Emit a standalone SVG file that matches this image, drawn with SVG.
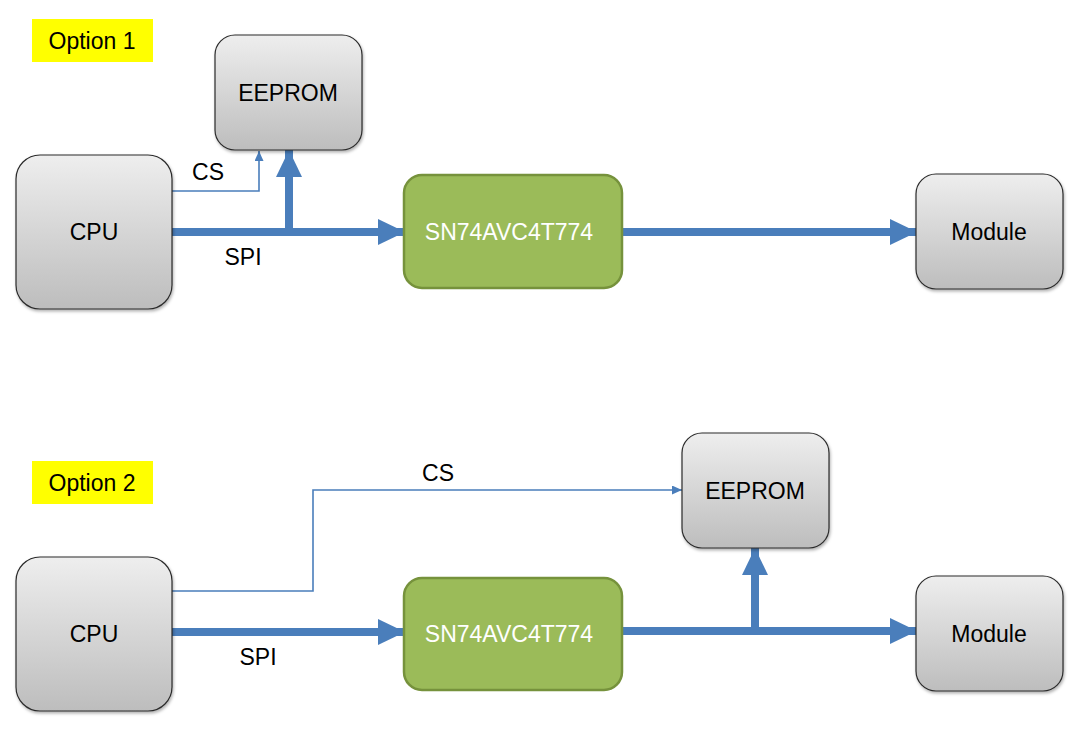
<svg xmlns="http://www.w3.org/2000/svg" width="1072" height="737" viewBox="0 0 1072 737">
<defs>
<linearGradient id="g" x1="0" y1="0" x2="0" y2="1">
<stop offset="0" stop-color="#EEEEEE"/>
<stop offset="1" stop-color="#BDBDBD"/>
</linearGradient>
<filter id="sh" x="-10%" y="-10%" width="130%" height="130%">
<feDropShadow dx="1" dy="2" stdDeviation="1.5" flood-color="#000" flood-opacity="0.3"/>
</filter>
<marker id="ah" markerUnits="userSpaceOnUse" markerWidth="28" markerHeight="28" refX="27" refY="13" orient="auto">
<path d="M0,0 L27,13 L0,26 Z" fill="#4A7EBB"/>
</marker>
<marker id="ahs" markerUnits="userSpaceOnUse" markerWidth="12" markerHeight="12" refX="10" refY="4.5" orient="auto">
<path d="M0,0 L10,4.5 L0,9 Z" fill="#4A7EBB"/>
</marker>
</defs>
<style>
.box{fill:url(#g);stroke:#2b2b2b;stroke-width:1.2;filter:url(#sh)}
.chip{fill:#9BBB59;stroke:#76923C;stroke-width:2.5}
.t{font-family:"Liberation Sans",Arial,sans-serif;font-size:23px;fill:#000;text-anchor:middle;dominant-baseline:central}
.tw{font-family:"Liberation Sans",Arial,sans-serif;font-size:23px;fill:#fff;text-anchor:middle;dominant-baseline:central}
.thick{fill:none;stroke:#4A7EBB;stroke-width:8}
.thin{fill:none;stroke:#4A7EBB;stroke-width:1.6}
.hl{fill:#FFFF00}
</style>

<g id="option1-label"><rect class="hl" x="32" y="19" width="121" height="43"/><text class="t" x="92" y="41">Option 1</text></g>
<g id="option2-label"><rect class="hl" x="32" y="461" width="121" height="43"/><text class="t" x="92" y="483">Option 2</text></g>

<g id="connectors">
<path class="thin" d="M172,191 H259 V151" marker-end="url(#ahs)"/>
<path class="thick" d="M172,232 H405" marker-end="url(#ah)"/>
<path class="thick" d="M289,232 V150" marker-end="url(#ah)"/>
<path class="thick" d="M622,232 H917" marker-end="url(#ah)"/>
<path class="thin" d="M172,591 H313 V490 H682" marker-end="url(#ahs)"/>
<path class="thick" d="M172,632 H405" marker-end="url(#ah)"/>
<path class="thick" d="M622,631 H917" marker-end="url(#ah)"/>
<path class="thick" d="M755,631 V548" marker-end="url(#ah)"/>
<text class="t" x="208" y="172">CS</text>
<text class="t" x="243" y="257">SPI</text>
<text class="t" x="438" y="473">CS</text>
<text class="t" x="258" y="657">SPI</text>
</g>

<g id="eeprom1"><rect class="box" x="215" y="35" width="147" height="115" rx="20"/><text class="t" x="288" y="93">EEPROM</text></g>
<g id="cpu1"><rect class="box" x="16" y="155" width="156" height="154" rx="24"/><text class="t" x="94" y="232">CPU</text></g>
<g id="chip1"><rect class="chip" x="404" y="175" width="218" height="113" rx="18"/><text class="tw" x="509" y="232">SN74AVC4T774</text></g>
<g id="module1"><rect class="box" x="916" y="174" width="147" height="115" rx="20"/><text class="t" x="989" y="232">Module</text></g>

<g id="eeprom2"><rect class="box" x="682" y="433" width="147" height="115" rx="20"/><text class="t" x="755" y="491">EEPROM</text></g>
<g id="cpu2"><rect class="box" x="16" y="557" width="156" height="154" rx="24"/><text class="t" x="94" y="634">CPU</text></g>
<g id="chip2"><rect class="chip" x="404" y="578" width="218" height="112" rx="18"/><text class="tw" x="509" y="634">SN74AVC4T774</text></g>
<g id="module2"><rect class="box" x="916" y="576" width="147" height="115" rx="20"/><text class="t" x="989" y="634">Module</text></g>
</svg>
